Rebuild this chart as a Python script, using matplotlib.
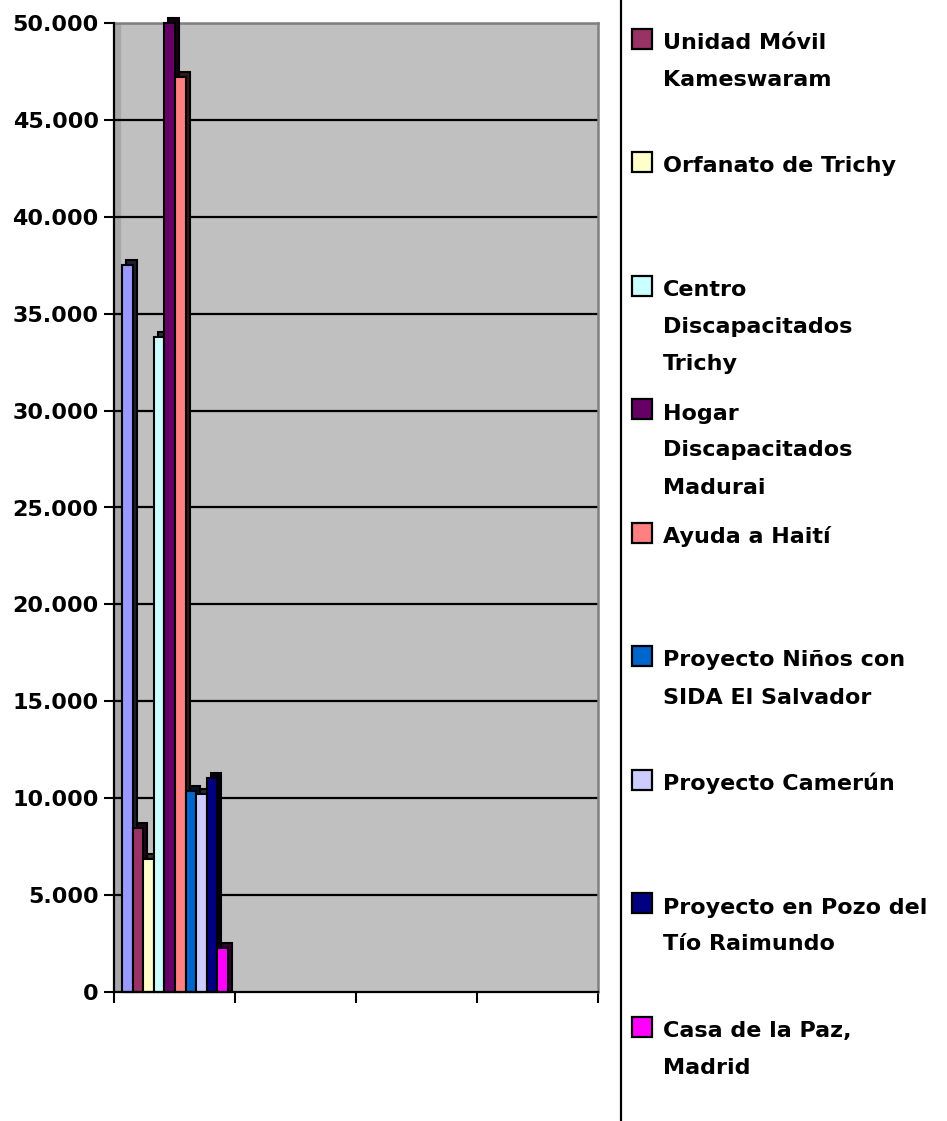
import numpy as np
import matplotlib
matplotlib.use('Agg')
import matplotlib.pyplot as plt
from matplotlib.lines import Line2D
from matplotlib.patches import Rectangle
from matplotlib.colors import to_rgb
from matplotlib.ticker import FuncFormatter

plt.rcParams['font.family'] = ['DejaVu Sans']
plt.rcParams['font.weight'] = 'bold'

# datos (la primera serie queda fuera de la leyenda visible)
proyectos = ['',
             'Unidad Móvil\nKameswaram',
             'Orfanato de Trichy',
             'Centro\nDiscapacitados\nTrichy',
             'Hogar\nDiscapacitados\nMadurai',
             'Ayuda a Haití',
             'Proyecto Niños con\nSIDA El Salvador',
             'Proyecto Camerún',
             'Proyecto en Pozo del\nTío Raimundo',
             'Casa de la Paz,\nMadrid']
importes = [37500, 8450, 6850, 33800, 50000, 47200, 10380, 10230, 11050, 2270]
colores = ['#9999FF', '#993366', '#FFFFCC', '#CCFFFF', '#660066',
           '#FF8080', '#0066CC', '#CCCCFF', '#000080', '#FF00FF']
n_categorias = 4
yticks = np.arange(0, 50001, 5000)

W, H = 947, 1121
fig = plt.figure(figsize=(W / 100, H / 100), dpi=100)
ax = fig.add_axes([114 / W, 1 - 992 / H, (598 - 114) / W, (992 - 23) / H])

ax.set_facecolor('#C0C0C0')
ax.set_xlim(0, n_categorias)
ax.set_ylim(0, 50000)
ax.axvspan(0, 0.05, color='#A8A8A8', zorder=0.5)

for y in yticks[1:]:
    ax.axhline(y, color='black', lw=1.6, zorder=1)

# barras con efecto 3D
ancho = 0.0876
inicio = 0.066
dx = 0.033
dy = 260
for i, (v, c) in enumerate(zip(importes, colores)):
    x = inicio + i * ancho
    oscuro = tuple(np.array(to_rgb(c)) * 0.2)
    ax.bar(x + dx, v + dy, width=ancho, align='edge', color=oscuro,
           edgecolor='black', lw=1.5, zorder=2 + 2 * i, clip_on=False)
    ax.bar(x, v, width=ancho, align='edge', color=c,
           edgecolor='black', lw=1.5, zorder=3 + 2 * i, clip_on=False)

ax.set_yticks(yticks)
ax.yaxis.set_major_formatter(FuncFormatter(lambda v, p: f'{int(v):,}'.replace(',', '.')))
ax.set_xticks(np.arange(n_categorias + 1))
ax.set_xticklabels([])
ax.tick_params(axis='y', length=7, width=1.5, labelsize=16, pad=4)
ax.tick_params(axis='x', length=8, width=1.5)
for lab in ax.get_yticklabels():
    lab.set_fontweight('bold')

for s in ['left', 'bottom']:
    ax.spines[s].set_color('black')
    ax.spines[s].set_linewidth(1.6)
    ax.spines[s].set_zorder(40)
for s in ['top', 'right']:
    ax.spines[s].set_color('#808080')
    ax.spines[s].set_linewidth(1.8)

# leyenda manual
fig.add_artist(Line2D([621 / W, 621 / W], [0, 1], color='black', lw=1.6,
                      transform=fig.transFigure))
paso = 123.5
for k, (lab, c) in enumerate(zip(proyectos[1:], colores[1:])):
    cy = 38.5 + k * paso
    fig.add_artist(Rectangle((632 / W, 1 - (cy + 10) / H), 20 / W, 20 / H,
                             facecolor=c, edgecolor='black', lw=1.6,
                             transform=fig.transFigure))
    for j, linea in enumerate(lab.split('\n')):
        base = cy + 10.5 + j * 37
        fig.text(663 / W, 1 - base / H, linea, fontsize=16, fontweight='bold',
                 va='baseline', ha='left')

fig.savefig('out.png', dpi=100)
